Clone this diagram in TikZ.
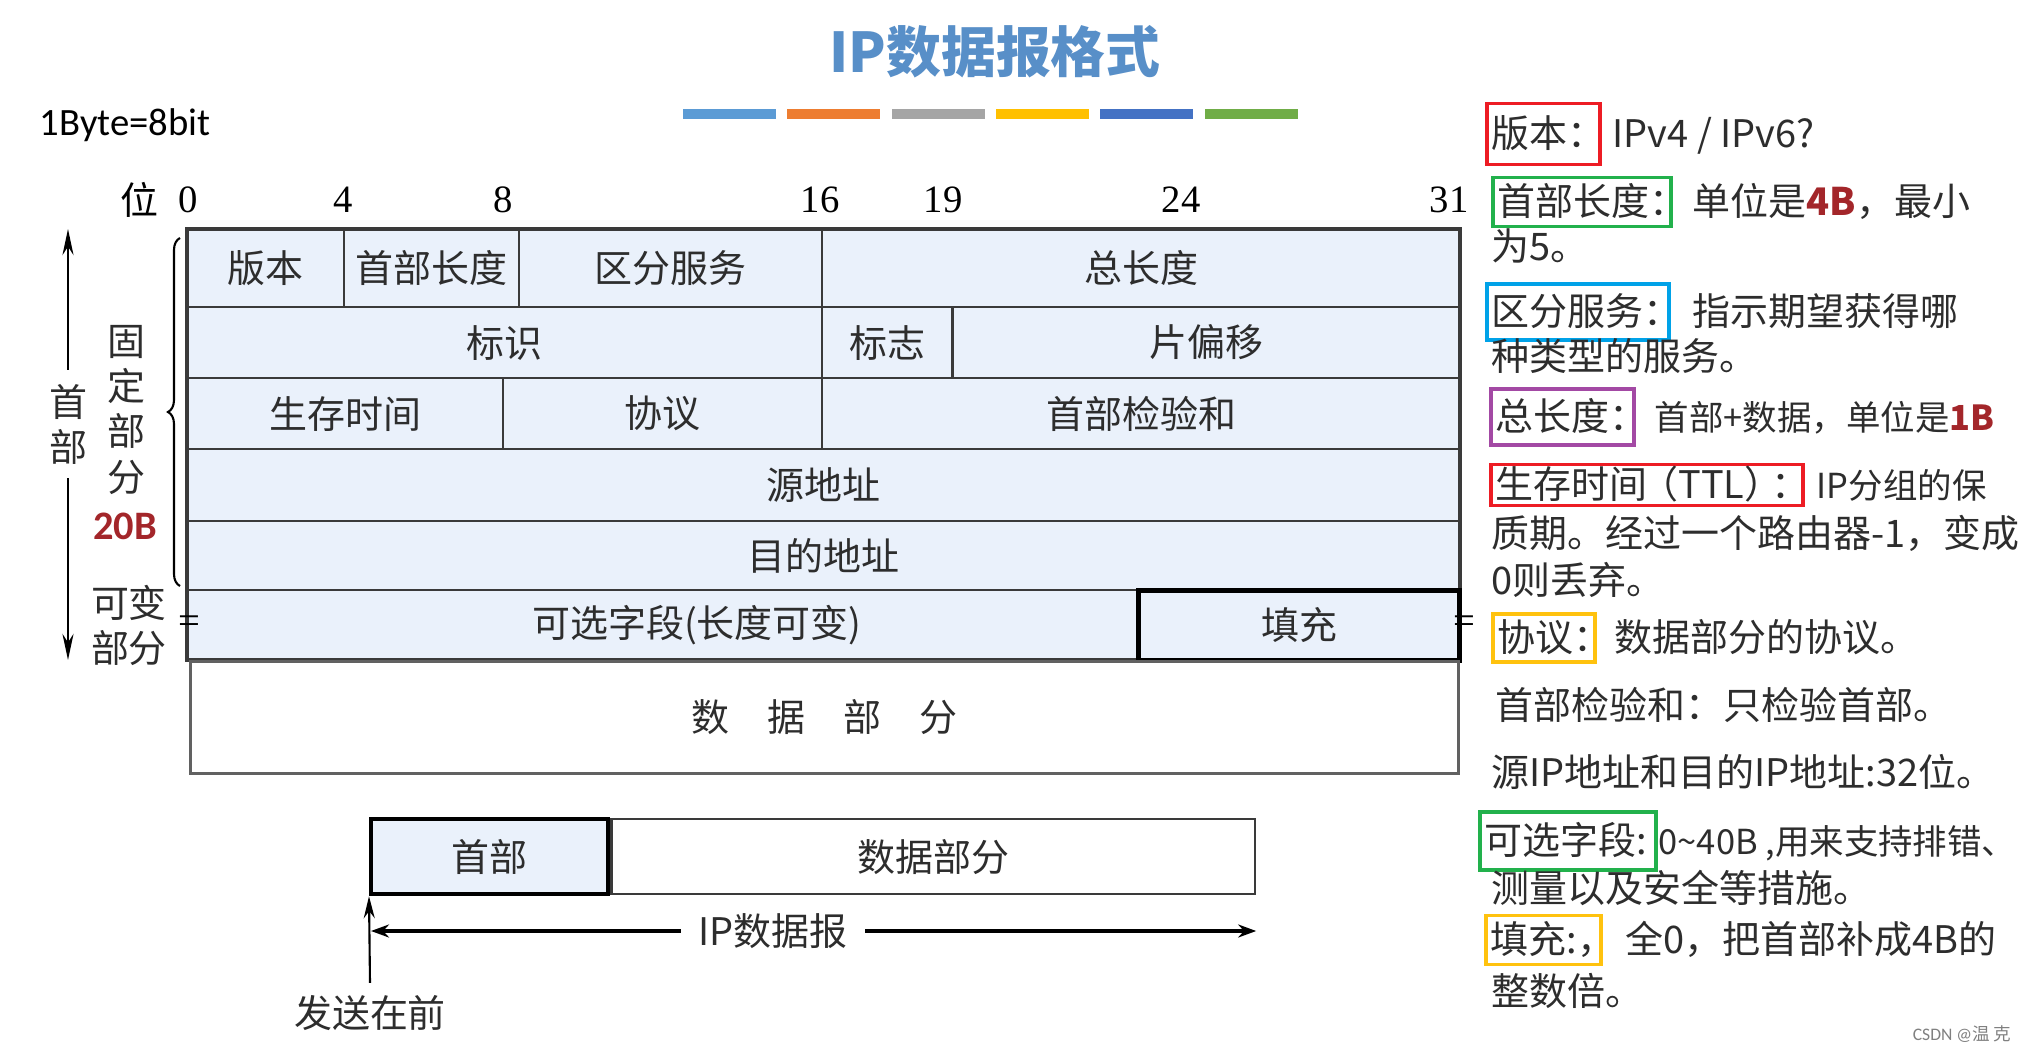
\documentclass[tikz,border=0pt]{standalone}
\usepackage{fontspec}
\setmainfont{Carlito}
\newfontfamily\cjk{Noto Sans CJK SC}
\newfontfamily\tms{Liberation Serif}
\usetikzlibrary{positioning}
\usetikzlibrary{arrows.meta}
\usetikzlibrary{decorations.pathreplacing}

\definecolor{cellfill}{RGB}{234,241,251}
\definecolor{cellline}{RGB}{58,58,58}
\definecolor{textgray}{RGB}{45,45,45}
\definecolor{titleblue}{RGB}{88,143,200}
\definecolor{redB}{RGB}{163,38,42}
\definecolor{barA}{RGB}{91,155,213}
\definecolor{barB}{RGB}{237,125,49}
\definecolor{barC}{RGB}{165,165,165}
\definecolor{barD}{RGB}{255,192,0}
\definecolor{barE}{RGB}{68,114,196}
\definecolor{barF}{RGB}{112,173,71}
\definecolor{boxred}{RGB}{237,28,36}
\definecolor{boxgreen}{RGB}{34,177,76}
\definecolor{boxblue}{RGB}{0,162,232}
\definecolor{boxpurple}{RGB}{163,73,164}
\definecolor{boxyellow}{RGB}{255,194,14}

\tikzset{
    field/.style={draw=cellline, fill=cellfill, line width=0.6pt, inner sep=0pt, outer sep=0pt,
        text=textgray, font=\cjk\fontsize{10.8pt}{13pt}\selectfont},
    notebox/.style={line width=1.1pt, inner xsep=0.5mm, inner ysep=0pt, minimum height=5.2mm, align=left,
        anchor=west, text height=3.2mm, text depth=0.6mm, text=textgray, font=\cjk\fontsize{10.8pt}{13pt}\selectfont},
    desc/.style={inner sep=0pt, anchor=west, text height=3.2mm, text depth=0.6mm,
        text=textgray, font=\cjk\fontsize{10.8pt}{13pt}\selectfont},
    tightdesc/.style={desc, font=\cjk\fontsize{9.8pt}{12pt}\selectfont},
    sidetext/.style={align=center, inner sep=1pt, text=textgray,
        font=\cjk\fontsize{10.8pt}{12.8pt}\selectfont},
    bitnum/.style={inner sep=0pt, font=\tms\fontsize{11pt}{12pt}\selectfont},
}

\begin{document}
\begin{tikzpicture}[x=0.01cm, y=-0.01cm]
    \useasboundingbox (0,0) rectangle (2021,1049);

    % title and colour bars
    \node[font=\cjk\bfseries\fontsize{15.6pt}{18pt}\selectfont, text=titleblue] (title) at (995,52) {IP数据报格式};
    \foreach \c [count=\i from 0] in {barA,barB,barC,barD,barE,barF}
        \fill[\c] ({683+\i*104.3},109) rectangle ++(93,10);

    \node[anchor=west, inner sep=0pt, font=\fontsize{11pt}{13pt}\selectfont] (unit) at (39,125) {1Byte=8bit};

    % bit positions
    \node[bitnum, font=\cjk\fontsize{10.8pt}{12pt}\selectfont] (bitword) at (139,200) {位};
    \foreach \b/\x in {0/188,4/343,8/503,16/820,19/943,24/1181,31/1449}
        \node[bitnum] (bit\b) at (\x,200) {\b};

    % header fields
    \node[field, minimum width=15.7mm, minimum height=7.8mm, anchor=north west] (ver) at (187,229) {版本};
    \node[field, minimum width=17.5mm, minimum height=7.8mm, right=0pt of ver] (hlen) {首部长度};
    \node[field, minimum width=30.3mm, minimum height=7.8mm, right=0pt of hlen] (dsrv) {区分服务};
    \node[field, minimum width=63.7mm, minimum height=7.8mm, right=0pt of dsrv] (tlen) {总长度};

    \node[field, minimum width=63.5mm, minimum height=7.1mm, anchor=north west] (ident) at (ver.south west) {标识};
    \node[field, minimum width=13mm, minimum height=7.1mm, right=0pt of ident] (flag) {标志};
    \node[field, minimum width=50.7mm, minimum height=7.1mm, right=0pt of flag] (frag) {片偏移};

    \node[field, minimum width=31.6mm, minimum height=7.1mm, anchor=north west] (ttl) at (ident.south west) {生存时间};
    \node[field, minimum width=31.9mm, minimum height=7.1mm, right=0pt of ttl] (proto) {协议};
    \node[field, minimum width=63.7mm, minimum height=7.1mm, right=0pt of proto] (csum) {首部检验和};

    \node[field, minimum width=127.2mm, minimum height=7.2mm, anchor=north west] (src) at (ttl.south west) {源地址};
    \node[field, minimum width=127.2mm, minimum height=6.9mm, anchor=north west] (dst) at (src.south west) {目的地址};

    \node[field, minimum width=95.1mm, minimum height=7mm, anchor=north west] (opt) at (dst.south west) {\hspace{1.8em}可选字段(长度可变)};
    \draw[draw=cellline, line width=1pt] (ver.north west) rectangle (opt.south west -| tlen.east);
    \node[field, draw=black, line width=1.5pt, minimum width=32.1mm, minimum height=7mm, right=0pt of opt] (pad) {填充};

    \node[font=\tms\fontsize{11pt}{11pt}\selectfont, inner sep=0pt] (brkL) at (189,625) {=};
    \node[font=\tms\fontsize{11pt}{11pt}\selectfont, inner sep=0pt] (brkR) at (1464,625) {=};

    % data part
    \node[draw=cellline!80, line width=0.8pt, minimum width=126.7mm, minimum height=11.2mm, anchor=north west,
        inner sep=0pt, text=textgray, font=\cjk\fontsize{10.8pt}{13pt}\selectfont] (data) at (189,660) {数\quad 据\quad 部\quad 分};

    % left side
    \coordinate (hdTop) at (68,229);
    \coordinate (hdBot) at (68,660);
    \draw[{Stealth[length=2.6mm,width=1.1mm]}-{Stealth[length=2.6mm,width=1.1mm]}, line width=0.8pt] (hdTop) -- (hdBot);
    \node[sidetext, fill=white, inner ysep=4pt] (hdLbl) at (68,424) {首\\部};

    \draw[decorate, decoration={brace, amplitude=1.2mm}, line width=0.6pt] (180,586) -- (180,238);
    \node[sidetext] (fixLbl) at (126,410) {固\\定\\部\\分};
    \node[font=\bfseries\fontsize{11.5pt}{13pt}\selectfont, text=redB, inner sep=0pt] (fixSize) at (125,526) {20B};
    \node[sidetext] (varLbl) at (129,625) {可变\\部分};

    % datagram below
    \node[draw=black, line width=1.2pt, fill=cellfill, minimum width=23.7mm, minimum height=7.5mm, anchor=north west,
        inner sep=0pt, text=textgray, font=\cjk\fontsize{10.8pt}{13pt}\selectfont] (hdr) at (369,817) {首部};
    \node[draw=cellline, line width=0.7pt, minimum width=64.3mm, minimum height=7.5mm, right=0pt of hdr,
        inner sep=0pt, text=textgray, font=\cjk\fontsize{10.8pt}{13pt}\selectfont] (body) {数据部分};

    \coordinate (dgL) at (371,931);
    \coordinate (dgR) at (body.east |- dgL);
    \draw[{Stealth[length=1.8mm,width=1.3mm]}-{Stealth[length=1.8mm,width=1.3mm]}, line width=0.9pt] (dgL) -- (dgR);
    \node[fill=white, inner xsep=5pt, text=textgray, font=\cjk\fontsize{10.8pt}{13pt}\selectfont] (dgLbl) at (773,931) {IP数据报};

    \node[text=textgray, font=\cjk\fontsize{10.8pt}{13pt}\selectfont] (send) at (370,1013) {发送在前};
    \draw[-{Stealth[length=2.2mm,width=1.1mm]}, line width=0.6pt] (send.north) -- (hdr.south west);

    % notes on the right
    \node[notebox, draw=boxred, text width=10.3mm, minimum height=6.1mm] (tVer) at (1485,134) {版本：};
    \node[desc, right=1mm of tVer] (dVer) {IPv4 / IPv6?};

    \node[notebox, draw=boxgreen, text width=16.8mm, minimum height=4.9mm] (tHlen) at (1491,202) {首部长度：};
    \node[desc, right=1.9mm of tHlen] (dHlen) {单位是{\bfseries\color{redB}4B}，最小};
    \node[desc] (dHlen2) at (1491,247) {为5。};

    \node[notebox, draw=boxblue, text width=17.2mm, minimum height=5.6mm] (tDsrv) at (1485,312) {区分服务：};
    \node[desc, right=2.1mm of tDsrv] (dDsrv) {指示期望获得哪};
    \node[desc] (dDsrv2) at (1491,357) {种类型的服务。};

    \node[notebox, draw=boxpurple, text width=13.3mm, minimum height=5.6mm] (tTlen) at (1489,417) {总长度：};
    \node[tightdesc, right=1.8mm of tTlen] (dTlen) {首部+数据，单位是{\bfseries\color{redB}1B}};

    \node[notebox, draw=boxred, text width=30.2mm, minimum height=4.1mm] (tTtl) at (1489,485) {生存时间\kern-0.2em（TTL）\kern-0.3em：};
    \node[tightdesc, right=1.1mm of tTtl] (dTtl) {IP分组的保};
    \node[desc] (dTtl2) at (1491,534) {质期。经过一个路由器-1，变成};
    \node[desc] (dTtl3) at (1491,581) {0则丢弃。};

    \node[notebox, draw=boxyellow, text width=9.2mm, minimum height=4.8mm] (tProto) at (1491,638) {协议：};
    \node[desc, right=1.7mm of tProto] (dProto) {数据部分的协议。};

    \node[desc] (dCsum) at (1495,706) {首部检验和：只检验首部。};
    \node[desc] (dAddr) at (1491,773) {源IP地址和目的IP地址:32位。};

    \node[notebox, draw=boxgreen, text width=16.6mm, minimum height=5.8mm] (tOpt) at (1478,841) {可选字段:};
    \node[tightdesc, right=0pt of tOpt] (dOpt) {0\textasciitilde 40B ,用来支持排错、};
    \node[desc] (dOpt2) at (1491,889) {测量以及安全等措施。};

    \node[notebox, draw=boxyellow, text width=10.5mm, minimum height=4.9mm] (tPad) at (1484,940) {填充:，};
    \node[desc, right=2.2mm of tPad] (dPad) {全0，把首部补成4B的};
    \node[desc] (dPad2) at (1491,992) {整数倍。};

    \node[text=gray, inner sep=0pt, font=\fontsize{5pt}{6pt}\selectfont] (mark) at (1962,1034) {CSDN @{\cjk 温 克}};
\end{tikzpicture}
\end{document}
